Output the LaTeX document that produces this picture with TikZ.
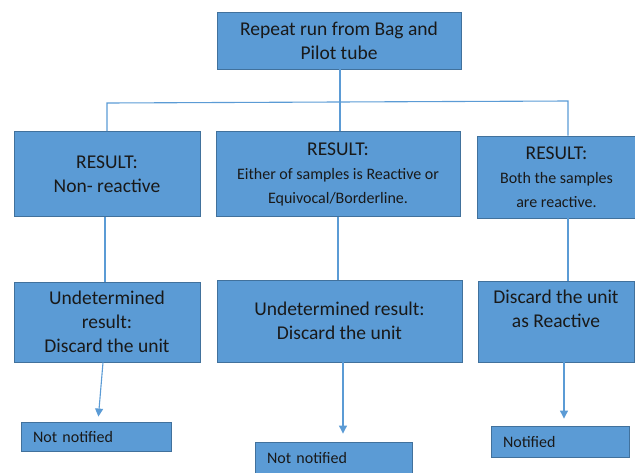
\documentclass[tikz,border=0pt]{standalone}
\usepackage{fontspec}
\setmainfont{Carlito}
\usetikzlibrary{arrows.meta}
\definecolor{boxblue}{HTML}{5B9BD5}
\definecolor{boxedge}{HTML}{41719C}
\definecolor{lineblue}{HTML}{5B9BD5}
\newcommand{\txtpetit}{\fontsize{16}{20}\selectfont}

\begin{document}
\begin{tikzpicture}[x=1pt, y=-1pt,
  cadre/.style={rectangle, draw=boxedge, fill=boxblue, line width=0.9pt,
               align=center, inner sep=2pt, text=black!90},
  grand/.style={font=\fontsize{19.5}{24}\selectfont},
  note/.style={cadre, font=\txtpetit, align=left, inner xsep=12pt},
  lien/.style={lineblue, line width=1.1pt},
  fleche/.style={lien, -{Triangle[width=8pt,length=8pt]}}]
\useasboundingbox (0,0) rectangle (635,472);
\node[cadre, grand, minimum width=244pt, minimum height=57pt] (haut) at (339,40.5) {Repeat run from Bag and\\Pilot tube};
% first results
\node[cadre, grand, minimum width=186pt, minimum height=85pt] (res1) at (107,174) {RESULT:\\Non- reactive};
\node[cadre, grand, minimum width=244pt, minimum height=85pt] (res2) at (338,174) {RESULT:\\\txtpetit Either of samples is Reactive or\\\txtpetit Equivocal/Borderline.};
\node[cadre, grand, minimum width=159pt, minimum height=82pt] (res3) at (556.5,177) {RESULT:\\\txtpetit Both the samples\\\txtpetit are reactive.};
% decisions
\node[cadre, grand, minimum width=186pt, minimum height=80pt] (dec1) at (107,322) {Undetermined\\result:\\Discard the unit};
\node[cadre, grand, minimum width=245pt, minimum height=82pt] (dec2) at (339.5,321) {Undetermined result:\\Discard the unit};
\node[cadre, grand, minimum width=156pt, minimum height=81pt, text depth=25pt] (dec3) at (556,321.5) {Discard the unit\\as Reactive};
% notification
\node[note, text width=126pt, minimum height=29pt] (av1) at (96,436.5) {Not notified};
\node[note, text width=133pt, minimum height=31pt] (av2) at (333.5,457.5) {Not notified};
\node[note, text width=114pt, minimum height=31pt] (av3) at (560,441.5) {Notified};
\coordinate (bus) at (340,102);
\coordinate (busG) at (107,103);
\coordinate (busD) at (568,101);
\draw[lien] (haut.south -| bus) -- (res2.north -| bus);
\draw[lien] (res1.north -| busG) -- (busG) -- (busD) -- (res3.north -| busD);
\draw[lien] ([xshift=-2pt]res1.south) -- ([xshift=-2pt]dec1.north);
\draw[lien] (res2.south) -- (res2.south |- dec2.north);
\draw[lien] (res3.south -| busD) -- (dec3.north -| busD);
\draw[fleche, shorten >=5pt] ([xshift=-4pt]dec1.south) -- ([xshift=2pt]av1.north);
\draw[fleche, shorten >=8pt] ([xshift=3.5pt]dec2.south) -- ([xshift=3.5pt]dec2.south |- av2.north);
\draw[fleche, shorten >=7pt] ([xshift=8pt]dec3.south) -- ([xshift=8pt]dec3.south |- av3.north);
\end{tikzpicture}
\end{document}
